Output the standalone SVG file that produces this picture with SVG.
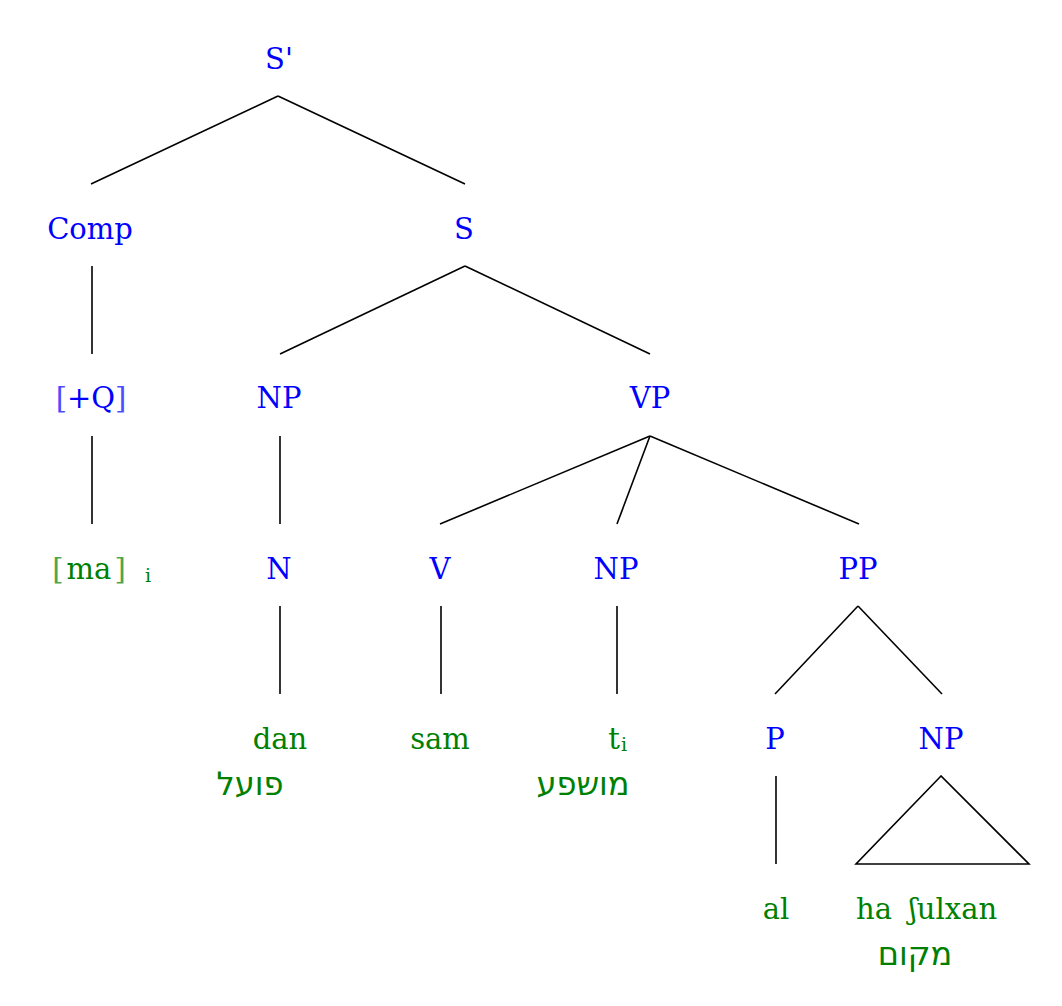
<svg xmlns="http://www.w3.org/2000/svg" width="1062" height="1006" viewBox="0 0 1062 1006">
<style>
text{font-family:"DejaVu Serif","Liberation Serif",serif;font-size:29px;text-anchor:middle}
.c{fill:#0000ff}
.t{fill:#008000}
.h{font-family:"DejaVu Sans","Noto Sans",sans-serif;font-size:32px;fill:#008000}
.s{font-size:19px}
.st{text-anchor:start}
.br{opacity:0.7}
line,polygon{stroke:#000;stroke-width:1.6;fill:none}
</style>
<rect width="1062" height="1006" fill="#fff"/>
<g id="connectors">
<line x1="278" y1="96" x2="91" y2="184"/>
<line x1="278" y1="96" x2="465" y2="184"/>
<line x1="92" y1="266" x2="92" y2="354"/>
<line x1="465" y1="266" x2="280" y2="354"/>
<line x1="465" y1="266" x2="650" y2="354"/>
<line x1="92" y1="436" x2="92" y2="524"/>
<line x1="280" y1="436" x2="280" y2="524"/>
<line x1="650" y1="436" x2="440" y2="524"/>
<line x1="650" y1="436" x2="617" y2="524"/>
<line x1="650" y1="436" x2="859" y2="524"/>
<line x1="280" y1="606" x2="280" y2="694"/>
<line x1="441" y1="606" x2="441" y2="694"/>
<line x1="617" y1="606" x2="617" y2="694"/>
<line x1="858" y1="606" x2="775" y2="694"/>
<line x1="858" y1="606" x2="942" y2="694"/>
<line x1="776" y1="776" x2="776" y2="864"/>
<polygon points="941,776 856,864 1029,864"/>
</g>
<g id="n-Sbar"><text class="c" x="279" y="69">S'</text></g>
<g id="n-Comp"><text class="c" x="90" y="239">Comp</text></g>
<g id="n-S"><text class="c" x="464" y="239">S</text></g>
<g id="n-Q"><text class="c" x="91" y="408"><tspan class="br">[</tspan>+Q<tspan class="br">]</tspan></text></g>
<g id="n-NP1"><text class="c" x="279" y="408">NP</text></g>
<g id="n-VP"><text class="c" x="650" y="408">VP</text></g>
<g id="n-ma"><text class="t" x="89" y="579"><tspan class="br">[</tspan><tspan dx="3">ma</tspan><tspan class="br" dx="3">]</tspan></text><text class="t s" x="148" y="582">i</text></g>
<g id="n-N"><text class="c" x="279" y="579">N</text></g>
<g id="n-V"><text class="c" x="440" y="579">V</text></g>
<g id="n-NP2"><text class="c" x="616" y="579">NP</text></g>
<g id="n-PP"><text class="c" x="858" y="579">PP</text></g>
<g id="n-dan"><text class="t" x="280" y="749">dan</text><text class="h" x="250" y="795">פועל</text></g>
<g id="n-sam"><text class="t" x="440" y="749">sam</text></g>
<g id="n-t"><text class="t" x="614" y="749">t</text><text class="t s" x="624" y="751">i</text><text class="h" x="583" y="795">מושפע</text></g>
<g id="n-P"><text class="c" x="775" y="749">P</text></g>
<g id="n-NP3"><text class="c" x="941" y="749">NP</text></g>
<g id="n-al"><text class="t" x="776" y="919">al</text></g>
<g id="n-shulxan"><text class="t st" x="856" y="919">ha</text><text class="t st" x="909" y="919">ʃulxan</text><text class="h" x="915" y="965">מקום</text></g>
</svg>
